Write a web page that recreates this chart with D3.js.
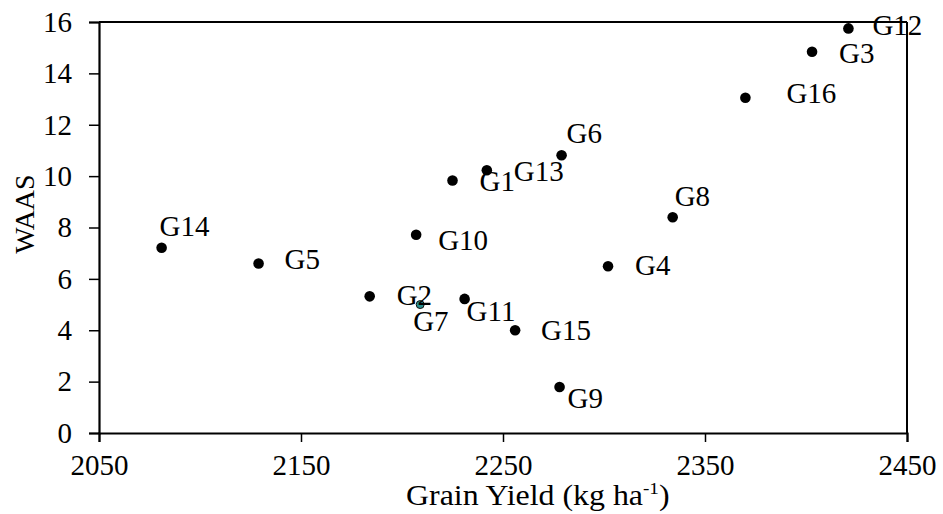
<!DOCTYPE html>
<html>
<head>
<meta charset="utf-8">
<script src="https://cdn.jsdelivr.net/npm/d3@7"></script>
<style>
  html, body { margin: 0; padding: 0; background: #fff; }
  svg { display: block; }
  text { font-family: "Liberation Serif", "DejaVu Serif", serif; fill: #000; }
</style>
</head>
<body>
<svg id="chart" width="943" height="514"></svg>
<script>
// ---- data ----
const genotypes = ["G1","G2","G3","G4","G5","G6","G7","G8","G9","G10","G11","G12","G13","G14","G15","G16"];
const grainYield = [2225, 2184, 2403, 2302, 2129, 2279, 2209, 2334, 2278, 2207, 2231, 2421, 2242, 2081, 2256, 2370];
const waas       = [9.83, 5.32, 14.84, 6.49, 6.60, 10.81, 5.00, 8.40, 1.79, 7.72, 5.22, 15.75, 10.23, 7.21, 4.00, 13.05];
const xTicks = [2050, 2150, 2250, 2350, 2450];
const yTicks = [0, 2, 4, 6, 8, 10, 12, 14, 16];
const xTitle = "Grain Yield (kg ha";
const xTitleSup = "-1";
const yTitle = "WAAS";

// label placement (layout only): offset from point in px [dx, dy]
const labelOffset = {
  G1:[27,11], G2:[27,9], G3:[27,11], G4:[27,9], G5:[26,6], G6:[5,-12], G7:[-7,26], G8:[2,-11],
  G9:[8,21], G10:[22,15], G11:[2,22], G12:[24,7], G13:[27,11], G14:[-2,-12], G15:[26,10], G16:[41,5]
};

const svg = d3.select("#chart");
const margin = {left: 99, right: 943 - 907, top: 22, bottom: 514 - 433};
const W = 943, H = 514;
const x = d3.scaleLinear().domain([2050, 2450]).range([margin.left, W - margin.right]);
const y = d3.scaleLinear().domain([0, 16]).range([H - margin.bottom, margin.top]);

const FS = 29;

// frame (top and right)
svg.append("line").attr("x1", x(2050)).attr("x2", x(2450)).attr("y1", y(16)).attr("y2", y(16))
  .attr("stroke", "#000").attr("stroke-width", 2);
svg.append("line").attr("x1", x(2450)).attr("x2", x(2450)).attr("y1", y(16)).attr("y2", y(0))
  .attr("stroke", "#000").attr("stroke-width", 2);

// axes
const xAxis = svg.append("g").attr("transform", `translate(0,${y(0)})`)
  .call(d3.axisBottom(x).tickValues(xTicks).tickFormat(d3.format("d")).tickSize(9).tickPadding(12));
const yAxis = svg.append("g").attr("transform", `translate(${x(2050)},0)`)
  .call(d3.axisLeft(y).tickValues(yTicks).tickFormat(d3.format("d")).tickSize(10).tickPadding(17));
[xAxis, yAxis].forEach(g => {
  g.select(".domain").attr("stroke", "#000").attr("stroke-width", 2.2);
  g.selectAll(".tick line").attr("stroke", "#000").attr("stroke-width", 1.5);
  g.selectAll(".tick text").attr("font-size", FS).attr("font-family", "Liberation Serif").attr("fill", "#000");
});

// axis titles
const xt = svg.append("text").attr("transform", "translate(406,505) scale(1.1,1)").attr("font-size", FS);
xt.append("tspan").text(xTitle);
xt.append("tspan").attr("font-size", FS * 0.6).attr("dy", -11).text(xTitleSup);
xt.append("tspan").attr("dy", 11).text(")");

svg.append("text").attr("transform", `translate(34,${214}) rotate(-90)`)
  .attr("text-anchor", "middle").attr("font-size", FS - 1).text(yTitle);

// points
const data = genotypes.map((g, i) => ({g, x: grainYield[i], y: waas[i]}));
svg.append("g").selectAll("circle").data(data).join("circle")
  .attr("cx", d => x(d.x)).attr("cy", d => y(d.y))
  .attr("r", d => d.g === "G7" ? 4 : 5.3)
  .attr("fill", d => d.g === "G7" ? "#2a8f8f" : "#000")
  .attr("stroke", d => d.g === "G7" ? "#111" : "none")
  .attr("stroke-width", 1);

// labels
svg.append("g").selectAll("text").data(data).join("text")
  .attr("x", d => x(d.x) + labelOffset[d.g][0])
  .attr("y", d => y(d.y) + labelOffset[d.g][1])
  .attr("font-size", FS)
  .text(d => d.g);
</script>
</body>
</html>
